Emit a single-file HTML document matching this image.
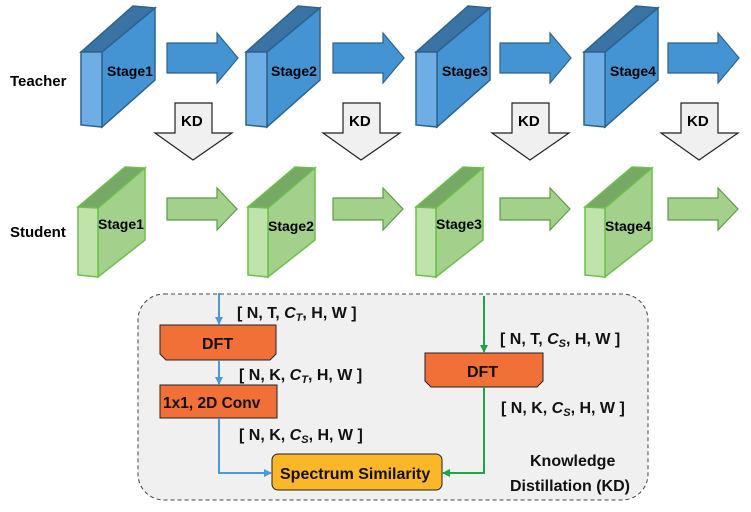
<html><body style="margin:0;background:#fff">
<svg width="751" height="512" viewBox="0 0 751 512" xmlns="http://www.w3.org/2000/svg" font-family="Liberation Sans, sans-serif" font-weight="bold">
<defs>
<marker id="mb" markerWidth="8" markerHeight="8" refX="7" refY="4" orient="auto" markerUnits="userSpaceOnUse"><path d="M0,0L8,4L0,8z" fill="#4a9ad8"/></marker>
<marker id="mg" markerWidth="8" markerHeight="8" refX="7" refY="4" orient="auto" markerUnits="userSpaceOnUse"><path d="M0,0L8,4L0,8z" fill="#1fa34a"/></marker>
<g id="tb">
<path d="M81,52L133,6L155,8L102,52Z" fill="#3a73a4" stroke="#2e628e" stroke-width="1.5"/>
<path d="M102,52L155,8L155,80L102,127Z" fill="#4494d4" stroke="#2e628e" stroke-width="1.5"/>
<path d="M81,52L102,52L102,127L81,125Z" fill="#6eaee4" stroke="#2e628e" stroke-width="1.5"/>
</g>
<g id="sb">
<path d="M78,207L125,167L145,168L98,208Z" fill="#78a866" stroke="#6cbf4c" stroke-width="1.5"/>
<path d="M98,208L145,168L145,240L98,277Z" fill="#a3d18b" stroke="#6cbf4c" stroke-width="1.5"/>
<path d="M78,207L98,208L98,277L78,275Z" fill="#bfe3ab" stroke="#6cbf4c" stroke-width="1.5"/>
</g>
<path id="ta" d="M167,43L217,43L217,33L238,58L217,83L217,73L167,73Z" fill="#4494d4" stroke="#2e628e" stroke-width="1.2"/>
<path id="sa" d="M167,198L217,198L217,188L237,209L217,230L217,220L167,220Z" fill="#a3d18b" stroke="#5f9a48" stroke-width="1.2"/>
<path id="kd" d="M175,103L212,103L212,133L232,133L193,160L155,133L175,133Z" fill="#f0f0f0" stroke="#222" stroke-width="1.2"/>
</defs>
<text x="10" y="86" font-size="15">Teacher</text>
<text x="10" y="237" font-size="15">Student</text>
<g font-size="14">
<use href="#tb"/><use href="#tb" x="165"/><use href="#tb" x="335"/><use href="#tb" x="503"/>
<use href="#sb"/><use href="#sb" x="170"/><use href="#sb" x="338"/><use href="#sb" x="507"/>
<use href="#ta"/><use href="#ta" x="166"/><use href="#ta" x="333"/><use href="#ta" x="501"/>
<use href="#sa"/><use href="#sa" x="166"/><use href="#sa" x="333"/><use href="#sa" x="501"/>
<use href="#kd"/><use href="#kd" x="168"/><use href="#kd" x="337"/><use href="#kd" x="506"/>
<text x="107" y="76">Stage1</text><text x="271" y="76">Stage2</text><text x="442" y="76">Stage3</text><text x="610" y="76">Stage4</text>
<text x="98" y="229">Stage1</text><text x="268" y="231">Stage2</text><text x="436" y="229">Stage3</text><text x="605" y="231">Stage4</text>
</g>
<g font-size="15"><text x="181" y="126">KD</text><text x="349" y="126">KD</text><text x="518" y="126">KD</text><text x="687" y="126">KD</text></g>
<rect x="138" y="294" width="510" height="206" rx="26" fill="#f0f0f0" stroke="#444" stroke-dasharray="4,3"/>
<path d="M160,325H276V354L270,360H166L160,354Z" fill="#f07038" stroke="#222"/>
<path d="M425,353H543V381L537,387H431L425,381Z" fill="#f07038" stroke="#222"/>
<rect x="160" y="385" width="117" height="33" fill="#f07038" stroke="#222"/>
<rect x="272" y="454" width="170" height="36" rx="6" fill="#fbb728" stroke="#222"/>
<g stroke="#4a9ad8" stroke-width="2" fill="none">
<path d="M219,293V324" marker-end="url(#mb)"/><path d="M219,360V384" marker-end="url(#mb)"/><path d="M219,418V473H271" marker-end="url(#mb)"/>
</g>
<g stroke="#1fa34a" stroke-width="2" fill="none">
<path d="M484,296V352" marker-end="url(#mg)"/><path d="M484,387V473H443" marker-end="url(#mg)"/>
</g>
<g font-size="16" fill="#111">
<text x="202" y="349">DFT</text><text x="467" y="377">DFT</text>
<text x="163" y="408" font-size="15.5">1x1, 2D Conv</text>
<text x="280" y="479">Spectrum Similarity</text>
<text x="237" y="318">[ N, T, <tspan font-style="italic">C<tspan font-size="11" dy="3">T</tspan></tspan><tspan dy="-3">, H, W ]</tspan></text>
<text x="239" y="380">[ N, K, <tspan font-style="italic">C<tspan font-size="11" dy="3">T</tspan></tspan><tspan dy="-3">, H, W ]</tspan></text>
<text x="239" y="440">[ N, K, <tspan font-style="italic">C<tspan font-size="11" dy="3">S</tspan></tspan><tspan dy="-3">, H, W ]</tspan></text>
<text x="500" y="344">[ N, T, <tspan font-style="italic">C<tspan font-size="11" dy="3">S</tspan></tspan><tspan dy="-3">, H, W ]</tspan></text>
<text x="501" y="413">[ N, K, <tspan font-style="italic">C<tspan font-size="11" dy="3">S</tspan></tspan><tspan dy="-3">, H, W ]</tspan></text>
<text x="530" y="466">Knowledge</text><text x="510" y="491">Distillation (KD)</text>
</g>
</svg>
</body></html>
